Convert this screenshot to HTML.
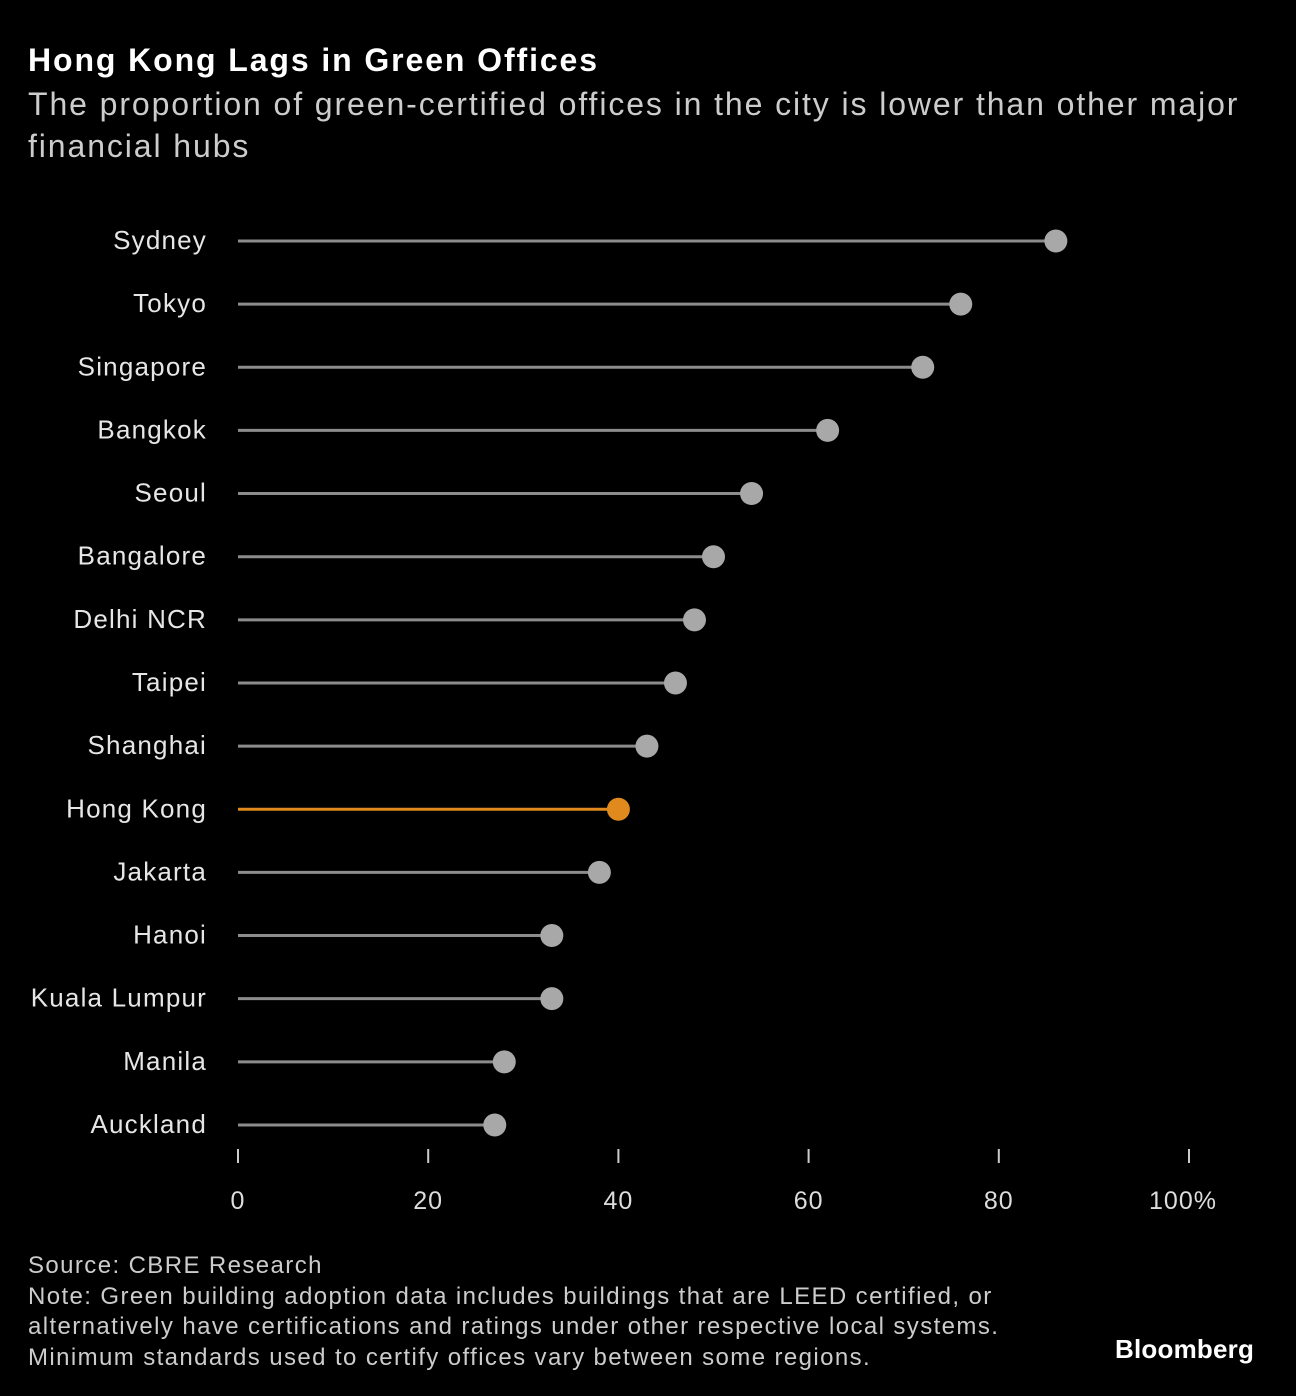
<!DOCTYPE html>
<html><head><meta charset="utf-8"><style>
body{margin:0;background:#000;width:1296px;height:1396px;overflow:hidden;font-family:"Liberation Sans",sans-serif;color:#fff}
.t{position:absolute;left:28px;top:42px;font-size:32px;font-weight:bold;letter-spacing:1.9px}
.s{position:absolute;left:28px;top:83px;font-size:32px;color:#ccc;line-height:42px;width:1225px;letter-spacing:1.9px}
.f{position:absolute;left:28px;top:1251px;font-size:24px;color:#ccc;line-height:30.5px;letter-spacing:1.4px;white-space:nowrap}
.b{position:absolute;left:1115px;top:1334px;font-size:26px;font-weight:bold;letter-spacing:0.2px}
</style></head><body>
<div class="t">Hong Kong Lags in Green Offices</div>
<div class="s">The proportion of green-certified offices in the city is lower than other major financial hubs</div>
<svg id="c" width="1296" height="1396" style="position:absolute;left:0;top:0"></svg>
<div class="f">Source: CBRE Research<br>Note: Green building adoption data includes buildings that are LEED certified, or<br>alternatively have certifications and ratings under other respective local systems.<br>Minimum standards used to certify offices vary between some regions.</div>
<div class="b">Bloomberg</div>
<script>
const cities=["Sydney","Tokyo","Singapore","Bangkok","Seoul","Bangalore","Delhi NCR","Taipei","Shanghai","Hong Kong","Jakarta","Hanoi","Kuala Lumpur","Manila","Auckland"];
const values=[86,76,72,62,54,50,48,46,43,40,38,33,33,28,27];
const ticks=[0,20,40,60,80,100];
const tickLabels=["0","20","40","60","80","100%"];
const svg=document.getElementById('c');const NS="http://www.w3.org/2000/svg";
const x=v=>238+v*9.51;const y=i=>241+i*63.14;
function mk(t,a){const e=document.createElementNS(NS,t);for(const k in a)e.setAttribute(k,a[k]);svg.appendChild(e);return e;}
cities.forEach((c,i)=>{
const hk=c==="Hong Kong";const col=hk?"#e08a1e":"#8c8c8c";const dc=hk?"#e08a1e":"#a8a8a8";
const tx=mk('text',{x:207,y:y(i)+8,'text-anchor':'end','font-size':26,fill:'#e6e6e6','font-family':'Liberation Sans','letter-spacing':'1.2'});tx.textContent=c;


const l=mk('line',{x1:x(0),x2:x(values[i]),y1:y(i),y2:y(i),stroke:col,'stroke-width':3});


const d=mk('circle',{cx:x(values[i]),cy:y(i),r:11.5,fill:dc});


});
ticks.forEach((t,i)=>{
const l=mk('line',{x1:x(t),x2:x(t),y1:1149,y2:1163,stroke:'#ccc','stroke-width':2});


const tx=mk('text',{x:x(t)+(i===5?-6:0),y:1209,'text-anchor':'middle','font-size':25,fill:'#ddd','font-family':'Liberation Sans','letter-spacing':'1'});tx.textContent=tickLabels[i];


});
</script>
</body></html>
